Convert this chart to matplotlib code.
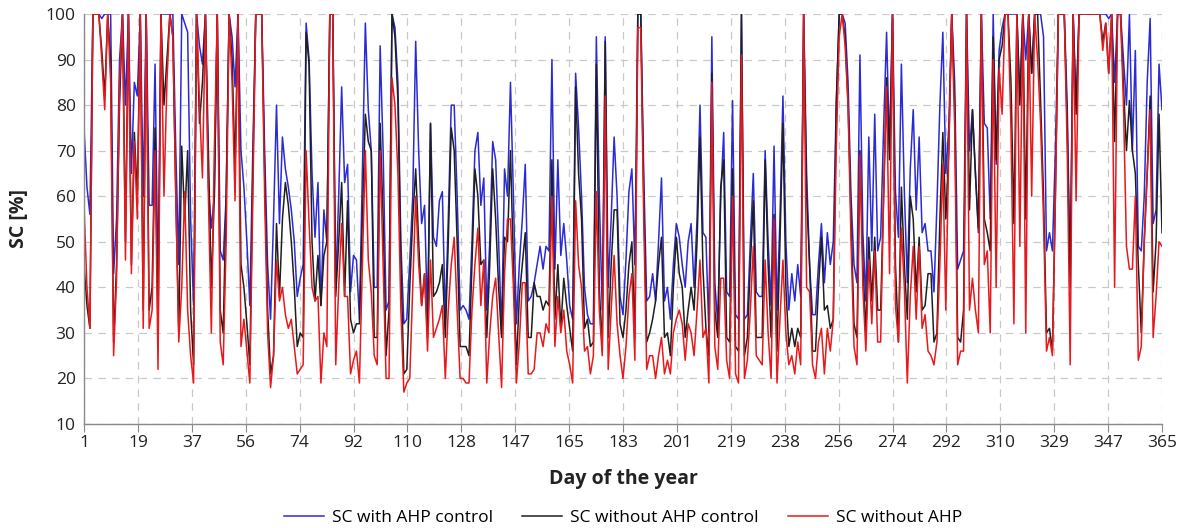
import numpy as np
import matplotlib
matplotlib.use("Agg")
import matplotlib.pyplot as plt

# ---------------- data ----------------
sc_with_ahp_control = [
    75, 62, 56, 100, 100, 100, 99, 100, 100, 100,
    43, 55, 90, 100, 80, 100, 65, 85, 82, 100,
    60, 100, 58, 58, 89, 40, 100, 100, 100, 100,
    100, 70, 45, 100, 98, 96, 55, 36, 100, 93,
    89, 100, 62, 53, 60, 100, 48, 46, 60, 100,
    95, 84, 100, 70, 62, 50, 36, 70, 100, 100,
    100, 70, 45, 33, 55, 80, 54, 73, 66, 62,
    57, 50, 38, 42, 45, 98, 90, 65, 51, 63,
    36, 57, 50, 100, 100, 40, 60, 84, 63, 67,
    39, 47, 46, 33, 65, 98, 79, 70, 40, 40,
    93, 70, 35, 37, 100, 97, 85, 50, 32, 33,
    46, 60, 94, 70, 54, 58, 33, 76, 51, 49,
    59, 61, 33, 55, 80, 80, 60, 35, 36, 35,
    33, 50, 70, 74, 58, 64, 35, 50, 72, 68,
    50, 30, 66, 60, 85, 60, 32, 45, 55, 67,
    37, 38, 41, 45, 49, 44, 49, 48, 90, 44,
    68, 47, 54, 46, 36, 33, 87, 75, 60, 40,
    34, 32, 32, 95, 60, 35, 95, 40, 55, 73,
    60, 38, 34, 46, 61, 66, 45, 100, 100, 65,
    37, 38, 43, 37, 50, 64, 37, 40, 33, 45,
    54, 51, 45, 40, 50, 54, 40, 55, 80, 52,
    51, 30, 95, 41, 32, 60, 74, 39, 38, 81,
    34, 33, 100, 33, 34, 50, 65, 39, 38, 38,
    70, 50, 36, 71, 35, 55, 82, 50, 35, 43,
    37, 45, 38, 100, 65, 45, 34, 34, 45, 54,
    41, 52, 45, 50, 80, 100, 100, 98, 85, 60,
    45, 41, 91, 52, 37, 73, 48, 78, 48, 51,
    75, 96, 70, 100, 61, 51, 89, 61, 41, 66,
    79, 57, 73, 52, 54, 48, 48, 39, 58, 80,
    96, 65, 75, 100, 85, 44, 46, 48, 100, 70,
    79, 65, 52, 100, 76, 75, 55, 100, 67, 92,
    97, 100, 100, 100, 100, 100, 82, 100, 90, 100,
    87, 100, 100, 100, 95, 48, 52, 48, 70, 100,
    100, 100, 80, 43, 100, 80, 100, 100, 100, 100,
    100, 100, 100, 100, 100, 100, 99, 100, 85, 100,
    100, 90, 80, 100, 70, 92, 49, 48, 60, 85,
    99, 54, 57, 89, 79,
]

sc_without_ahp_control = [
    45, 36, 31, 100, 100, 100, 92, 82, 100, 90,
    28, 45, 80, 100, 50, 100, 45, 74, 60, 100,
    35, 100, 35, 40, 75, 30, 100, 80, 90, 100,
    95, 60, 30, 71, 55, 70, 35, 23, 100, 76,
    85, 100, 70, 40, 60, 100, 35, 30, 60, 100,
    90, 66, 100, 45, 40, 32, 23, 65, 100, 100,
    100, 65, 35, 21, 25, 54, 38, 55, 63, 58,
    50, 40, 27, 30, 29, 96, 89, 50, 37, 47,
    36, 47, 50, 100, 100, 38, 50, 63, 38, 59,
    33, 30, 32, 32, 55, 78, 72, 70, 29, 29,
    76, 55, 25, 35, 100, 95, 81, 45, 21, 22,
    40, 55, 66, 50, 36, 43, 29, 76, 38, 39,
    41, 45, 29, 50, 75, 70, 50, 27, 27, 27,
    25, 45, 66, 60, 45, 46, 29, 45, 66, 55,
    40, 29, 51, 50, 70, 45, 23, 38, 45, 52,
    29, 29, 41, 38, 38, 35, 37, 36, 68, 33,
    45, 31, 42, 36, 31, 26, 84, 65, 55, 31,
    33, 27, 28, 89, 40, 26, 94, 29, 45, 57,
    57, 32, 29, 35, 45, 50, 29, 100, 100, 60,
    28, 30, 33, 37, 45, 51, 29, 30, 25, 40,
    51, 43, 40, 29, 35, 40, 35, 50, 73, 44,
    31, 25, 87, 35, 29, 62, 68, 29, 28, 66,
    27, 26, 100, 25, 29, 45, 59, 29, 29, 29,
    68, 45, 29, 56, 26, 50, 76, 40, 27, 31,
    27, 31, 29, 100, 60, 45, 26, 26, 40, 51,
    35, 36, 31, 33, 80, 100, 100, 95, 80, 55,
    32, 29, 70, 45, 30, 51, 37, 51, 35, 35,
    60, 86, 68, 100, 45, 28, 62, 45, 33, 60,
    55, 39, 51, 35, 36, 43, 43, 28, 30, 55,
    74, 55, 70, 100, 80, 29, 28, 35, 100, 57,
    79, 65, 53, 100, 55, 52, 48, 95, 68, 90,
    93, 100, 100, 85, 54, 100, 80, 100, 55, 100,
    87, 100, 100, 81, 60, 30, 31, 26, 60, 100,
    100, 100, 75, 40, 100, 78, 100, 100, 100, 100,
    100, 100, 100, 100, 94, 98, 87, 100, 72, 100,
    100, 84, 70, 81, 70, 65, 45, 30, 50, 65,
    82, 39, 50, 78, 52,
]

sc_without_ahp = [
    58, 40, 31, 100, 100, 100, 90, 79, 100, 85,
    25, 42, 85, 100, 46, 100, 43, 72, 55, 100,
    31, 100, 31, 35, 70, 22, 100, 60, 85, 100,
    95, 60, 28, 40, 61, 35, 25, 19, 100, 80,
    64, 100, 60, 30, 70, 100, 28, 23, 50, 100,
    85, 59, 100, 27, 33, 26, 19, 60, 100, 100,
    100, 60, 30, 18, 25, 46, 37, 40, 34, 31,
    33, 27, 21, 22, 23, 70, 54, 40, 37, 38,
    19, 30, 27, 100, 100, 23, 40, 54, 38, 38,
    21, 24, 26, 19, 45, 70, 46, 39, 25, 23,
    70, 45, 20, 20, 86, 80, 65, 35, 17, 19,
    20, 40, 60, 45, 36, 43, 26, 46, 29, 31,
    33, 36, 20, 35, 45, 51, 35, 20, 20, 19,
    19, 35, 45, 53, 36, 46, 19, 30, 38, 42,
    30, 18, 43, 55, 55, 40, 19, 28, 41, 41,
    21, 21, 22, 30, 30, 27, 32, 30, 60, 27,
    38, 30, 35, 26, 23, 19, 59, 45, 40, 26,
    27, 21, 25, 61, 35, 25, 82, 22, 35, 47,
    32, 25, 20, 27, 38, 43, 24, 97, 97, 55,
    22, 25, 25, 20, 25, 29, 21, 24, 21, 30,
    33, 35, 32, 24, 32, 30, 25, 35, 46, 29,
    31, 19, 85, 27, 22, 42, 42, 24, 20, 60,
    21, 19, 91, 20, 24, 35, 49, 25, 24, 23,
    46, 30, 20, 55, 19, 33, 46, 30, 23, 25,
    21, 28, 23, 100, 40, 39, 23, 20, 28, 31,
    21, 31, 26, 33, 70, 95, 100, 93, 80, 50,
    27, 23, 69, 40, 26, 46, 32, 48, 28, 28,
    60, 84, 43, 100, 36, 28, 53, 40, 19, 38,
    49, 33, 49, 31, 34, 26, 25, 23, 28, 45,
    67, 35, 70, 100, 75, 23, 26, 26, 100, 35,
    42, 35, 30, 100, 45, 48, 30, 90, 40, 88,
    78, 100, 100, 75, 32, 100, 49, 100, 30, 100,
    60, 100, 90, 76, 55, 26, 29, 25, 60, 100,
    100, 100, 70, 23, 100, 59, 100, 100, 100, 100,
    100, 100, 100, 100, 92, 98, 87, 100, 40, 100,
    100, 80, 49, 44, 44, 60, 24, 27, 50, 65,
    79, 29, 38, 50, 49,
]

days = np.arange(1, len(sc_with_ahp_control) + 1)
x_tick_labels = ["1", "19", "37", "56", "74", "92", "110", "128", "147", "165",
                 "183", "201", "219", "238", "256", "274", "292", "310", "329",
                 "347", "365"]
y_ticks = [10, 20, 30, 40, 50, 60, 70, 80, 90, 100]
series_names = ["SC with AHP control", "SC without AHP control", "SC without AHP"]

# ---------------- plot ----------------
plt.rcParams['font.family'] = ['Open Sans', 'DejaVu Sans']

fig = plt.figure(figsize=(11.85, 5.28), dpi=100)
ax = fig.add_axes([84 / 1185, 1 - 424 / 528, (1162 - 84) / 1185, (424 - 14) / 528])

ax.plot(days, sc_with_ahp_control, color="#2b2bd6", lw=1.1, label=series_names[0])
ax.plot(days, sc_without_ahp_control, color="#1f1f1f", lw=1.1, label=series_names[1])
ax.plot(days, sc_without_ahp, color="#e8191c", lw=1.1, label=series_names[2])

ax.set_xlim(1, 365)
ax.set_ylim(10, 100)
xt = np.linspace(1, 365, len(x_tick_labels))
ax.set_xticks(xt)
ax.set_xticklabels(x_tick_labels)
ax.set_yticks(y_ticks)

ax.grid(True, color="#c9c9c9", linestyle=(0, (6, 5)), linewidth=0.9)
ax.set_axisbelow(True)
for s in ["top", "right"]:
    ax.spines[s].set_visible(False)
for s in ["left", "bottom"]:
    ax.spines[s].set_color("#8a8a8a")
    ax.spines[s].set_linewidth(1.0)

ax.tick_params(axis="x", length=6, color="#8a8a8a", labelsize=12.5, labelcolor="#222222", pad=2)
ax.tick_params(axis="y", length=0, labelsize=12.5, labelcolor="#222222", pad=6)

ax.set_xlabel("Day of the year", fontsize=14, fontweight="bold", color="#222222", labelpad=13)
ax.set_ylabel("SC [%]", fontsize=14, fontweight="bold", color="#222222", labelpad=12)

ax.legend(loc="center", bbox_to_anchor=(0.5, -(518 - 424) / 410), ncol=3, frameon=False,
          fontsize=12.5, handlelength=2.3, handletextpad=0.45, columnspacing=1.7,
          borderpad=0.1)

fig.savefig("out.png", dpi=100)
